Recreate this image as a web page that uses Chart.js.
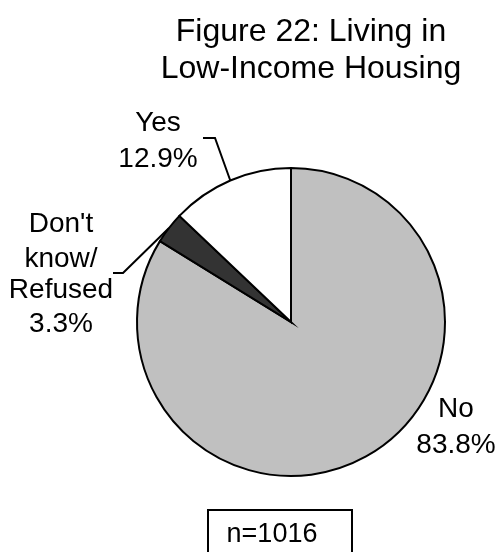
<!DOCTYPE html>
<html>
<head>
<meta charset="utf-8">
<script src="https://cdn.jsdelivr.net/npm/chart.js@4"></script>
<style>
  html, body { margin: 0; padding: 0; background: #fff; }
  #wrap { width: 500px; height: 552px; position: relative; }
</style>
</head>
<body>
<div id="wrap"><canvas id="pieChart" width="500" height="552"></canvas></div>
<script>
const categories = ["No", "Don't know/Refused", "Yes"];
const shares = [83.8, 3.3, 12.9];
const sliceColors = ['#c0c0c0', '#333333', '#ffffff'];
const titleLines = ['Figure 22: Living in', 'Low-Income Housing'];
const sampleNote = 'n=1016';

const FONT = '"Liberation Sans", Arial, sans-serif';

// label text lines and where each one sits; leader lines run from the elbow to the slice edge
const labelLayout = [
    { lines: ['No', shares[0].toFixed(1) + '%'], x: 456, y: [417, 453], leader: null },
    { lines: ["Don't", 'know/', 'Refused', shares[1].toFixed(1) + '%'], x: 61, y: [232, 267, 298, 332],
      leader: [[113, 273], [123, 273]] },
    { lines: ['Yes', shares[2].toFixed(1) + '%'], x: 158, y: [131, 167],
      leader: [[203, 138], [215, 138]] }
];

const annotations = {
    id: 'annotations',
    afterDraw(chart) {
        const ctx = chart.ctx;
        const meta = chart.getDatasetMeta(0);
        ctx.save();
        ctx.fillStyle = '#000';
        ctx.textAlign = 'center';
        ctx.textBaseline = 'alphabetic';

        ctx.font = '32px ' + FONT;
        ctx.fillText(titleLines[0], 311, 41);
        ctx.fillText(titleLines[1], 311, 78);

        ctx.font = '28px ' + FONT;
        labelLayout.forEach((lab, i) => {
            lab.lines.forEach((t, j) => ctx.fillText(t, lab.x, lab.y[j]));
            if (!lab.leader) return;
            const arc = meta.data[i];
            const mid = (arc.startAngle + arc.endAngle) / 2;
            const ex = arc.x + Math.cos(mid) * arc.outerRadius;
            const ey = arc.y + Math.sin(mid) * arc.outerRadius;
            ctx.beginPath();
            ctx.moveTo(lab.leader[0][0], lab.leader[0][1]);
            ctx.lineTo(lab.leader[1][0], lab.leader[1][1]);
            ctx.lineTo(ex, ey);
            ctx.lineWidth = 2;
            ctx.strokeStyle = '#000';
            ctx.stroke();
        });

        // sample size box
        ctx.lineWidth = 2;
        ctx.strokeRect(208, 510, 144, 60);
        ctx.font = '27px ' + FONT;
        ctx.fillText(sampleNote, 272, 542);
        ctx.restore();
    }
};

const ctx = document.getElementById('pieChart').getContext('2d');
new Chart(ctx, {
    type: 'pie',
    data: {
        labels: categories,
        datasets: [{
            data: shares,
            backgroundColor: sliceColors,
            borderColor: '#000',
            borderWidth: 2,
            borderJoinStyle: 'miter'
        }]
    },
    options: {
        responsive: false,
        animation: false,
        events: [],
        layout: { padding: { left: 136, right: 54, top: 167, bottom: 75 } },
        plugins: {
            legend: { display: false },
            tooltip: { enabled: false },
            title: { display: false }
        }
    },
    plugins: [annotations]
});
</script>
</body>
</html>
